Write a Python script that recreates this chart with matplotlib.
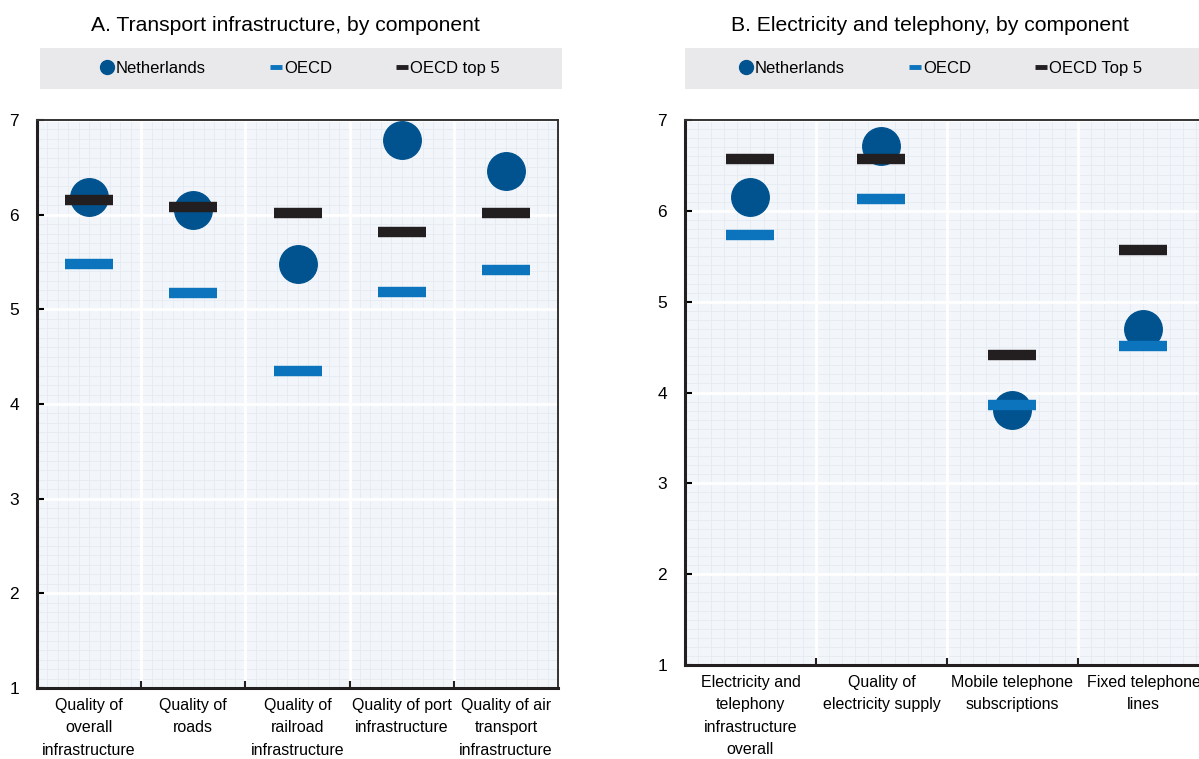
import matplotlib.pyplot as plt
import numpy as np
from matplotlib.lines import Line2D
from matplotlib.patches import Rectangle

plt.rcParams["font.family"] = ["Liberation Sans", "DejaVu Sans"]

transport_labels = [
    "Quality of\noverall\ninfrastructure",
    "Quality of\nroads",
    "Quality of\nrailroad\ninfrastructure",
    "Quality of port\ninfrastructure",
    "Quality of air\ntransport\ninfrastructure",
]
transport_nld = [6.19, 6.05, 5.48, 6.79, 6.46]
transport_oecd = [5.48, 5.17, 4.35, 5.18, 5.42]
transport_top5 = [6.15, 6.08, 6.02, 5.82, 6.02]

electricity_labels = [
    "Electricity and\ntelephony\ninfrastructure\noverall",
    "Quality of\nelectricity supply",
    "Mobile telephone\nsubscriptions",
    "Fixed telephone\nlines",
]
electricity_nld = [6.15, 6.71, 3.81, 4.70]
electricity_oecd = [5.73, 6.13, 3.86, 4.51]
electricity_top5 = [6.57, 6.57, 4.41, 5.57]

NLD_COLOR = "#00538f"
OECD_COLOR = "#0b74bd"
TOP5_COLOR = "#231f20"
BG_COLOR = "#f2f5fa"
FINE_GRID = "#e6ebf2"
LEGEND_BG = "#e9e9ec"


def draw_panel(ax, labels, nld, oecd, top5):
    x = np.arange(len(labels))
    ax.set_facecolor(BG_COLOR)
    ax.set_xlim(-0.5, len(labels) - 0.5)
    ax.set_ylim(1, 7)

    # fine background grid
    for yv in np.arange(1, 7.01, 0.1):
        ax.axhline(yv, color=FINE_GRID, lw=0.6, zorder=0)
    for xv in np.arange(-0.5, len(labels) - 0.49, 0.1):
        ax.axvline(xv, color=FINE_GRID, lw=0.6, zorder=0)

    ax.set_xticks(x)
    ax.set_xticklabels(labels, fontsize=11.5, linespacing=1.62)
    ax.set_xticks(x[:-1] + 0.5, minor=True)
    ax.tick_params(axis="x", which="major", length=0, pad=7)
    ax.tick_params(axis="x", which="minor", length=5, width=1.5, direction="in", color="#231f20")
    ax.set_yticks(range(1, 8))
    ax.tick_params(axis="y", length=5, width=1.5, direction="in", labelsize=12.5, pad=13)
    ax.grid(which="minor", axis="x", color="white", lw=2, zorder=1)
    ax.grid(which="major", axis="y", color="white", lw=2, zorder=1)
    ax.set_axisbelow(True)

    for side in ["left", "bottom"]:
        ax.spines[side].set_linewidth(2.2)
        ax.spines[side].set_color("#231f20")
    for side in ["top", "right"]:
        ax.spines[side].set_linewidth(1.4)
        ax.spines[side].set_color("#333333")

    ax.plot(x, nld, "o", ms=27, color=NLD_COLOR, ls="none", zorder=3)
    ax.plot(x, oecd, "_", ms=34, mew=7.5, color=OECD_COLOR, ls="none", zorder=4)
    ax.plot(x, top5, "_", ms=34, mew=7.5, color=TOP5_COLOR, ls="none", zorder=5)


def draw_legend(fig, box, top_label):
    x0, y0, w, h = box
    fig.patches.append(Rectangle((x0, y0), w, h, transform=fig.transFigure,
                                 facecolor=LEGEND_BG, edgecolor="none", zorder=0))
    handles = [
        Line2D([], [], marker="o", ms=10, color=NLD_COLOR, ls="none"),
        Line2D([], [], marker="_", ms=8, mew=3.5, color=OECD_COLOR, ls="none"),
        Line2D([], [], marker="_", ms=8, mew=3.5, color=TOP5_COLOR, ls="none"),
    ]
    fig.legend(handles, ["Netherlands", "OECD", top_label], loc="center",
               bbox_to_anchor=box, bbox_transform=fig.transFigure, ncol=3,
               frameon=False, fontsize=12, handlelength=0.6, handletextpad=0.2,
               columnspacing=3.9)


fig = plt.figure(figsize=(11.99, 7.59), dpi=100)
ax_a = fig.add_axes([0.0309, 0.0935, 0.4345, 0.7484])
ax_b = fig.add_axes([0.5713, 0.1238, 0.4370, 0.7181])

draw_panel(ax_a, transport_labels, transport_nld, transport_oecd, transport_top5)
draw_panel(ax_b, electricity_labels, electricity_nld, electricity_oecd, electricity_top5)

draw_legend(fig, (0.0334, 0.8827, 0.4354, 0.054), "OECD top 5")
draw_legend(fig, (0.5713, 0.8827, 0.4287, 0.054), "OECD Top 5")

fig.text(0.238, 0.967, "A. Transport infrastructure, by component", ha="center", va="center", fontsize=15.2)
fig.text(0.776, 0.967, "B. Electricity and telephony, by component", ha="center", va="center", fontsize=15.2)

fig.savefig("out.png", dpi=100)
